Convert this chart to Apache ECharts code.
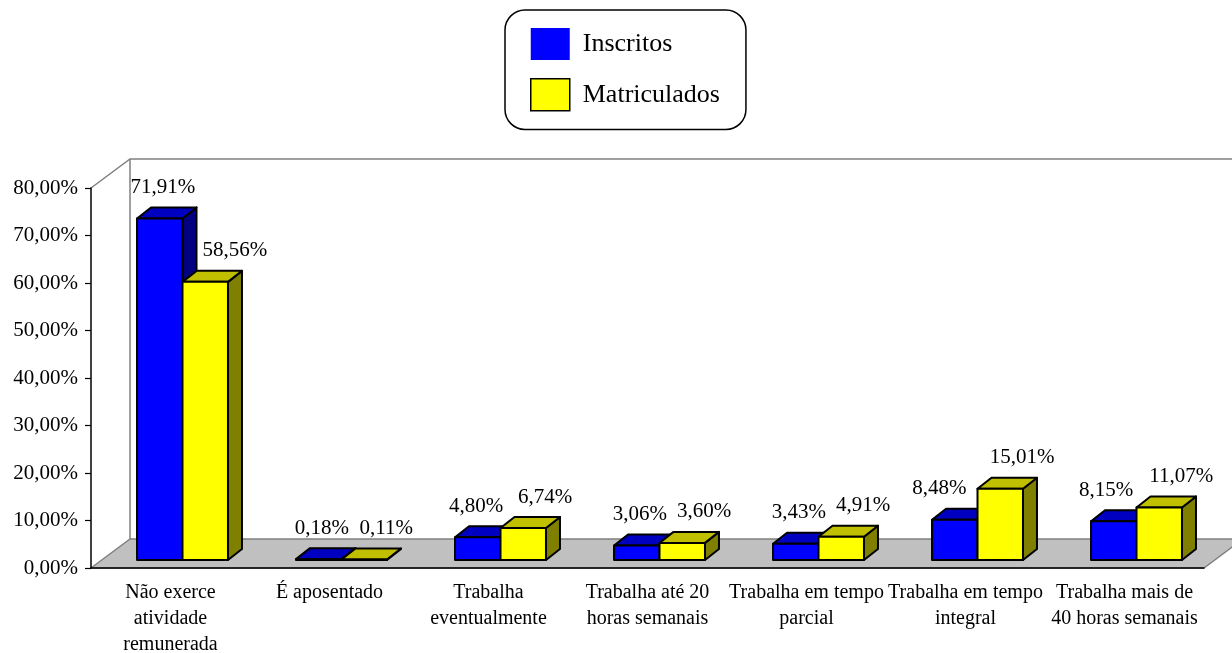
<!DOCTYPE html>
<html>
<head>
<meta charset="utf-8">
<script src="https://cdn.jsdelivr.net/npm/echarts@6/dist/echarts.min.js"></script>
<style>
  html, body { margin: 0; padding: 0; background: #fff; }
  #chart { width: 1232px; height: 653px; }
</style>
</head>
<body>
<div id="chart"></div>
<script>
const categories = [
  'Não exerce\natividade\nremunerada',
  'É aposentado',
  'Trabalha\neventualmente',
  'Trabalha até 20\nhoras semanais',
  'Trabalha em tempo\nparcial',
  'Trabalha em tempo\nintegral',
  'Trabalha mais de\n40 horas semanais'
]
const inscritos = [71.91, 0.18, 4.80, 3.06, 3.43, 8.48, 8.15]
const matriculados = [58.56, 0.11, 6.74, 3.60, 4.91, 15.01, 11.07]

const FONT = '"Liberation Serif", "Times New Roman", serif'
const LABEL_FONT = '21px ' + FONT
// 3d look: back wall depth, bar offset inside the floor, bar depth
const WALL = [39, -29]
const SHIFT = [12, -8]
const DEPTH = [14, -11]
const BAR_RATIO = 0.286

const measure = document.createElement('canvas').getContext('2d')
measure.font = LABEL_FONT

function fmt(v) {
  return v.toFixed(2).replace('.', ',') + '%'
}

function barGeom(api, ci, v, side) {
  const c0 = api.coord([ci, 0])
  const c1 = api.coord([ci, v])
  const bw = api.size([1, 0])[0] * BAR_RATIO
  const x0 = c0[0] + SHIFT[0] + (side === 0 ? -bw : 0)
  return { x0: x0, x1: x0 + bw, yt: c1[1] + SHIFT[1], yb: c0[1] + SHIFT[1] }
}

function frameRenderer(params, api) {
  const cs = params.coordSys
  const left = cs.x, right = cs.x + cs.width
  const top = cs.y, bottom = cs.y + cs.height
  const dx = WALL[0], dy = WALL[1]
  const line = { stroke: '#808080', lineWidth: 1.5, fill: null }
  return {
    type: 'group',
    children: [
      {
        type: 'polygon',
        shape: { points: [[left, bottom], [left + dx, bottom + dy], [right + dx, bottom + dy], [right, bottom]] },
        style: { fill: '#c0c0c0', stroke: '#808080', lineWidth: 1.5 }
      },
      {
        type: 'polyline',
        shape: { points: [[left, top], [left + dx, top + dy], [right + dx, top + dy]] },
        style: line
      },
      {
        type: 'line',
        shape: { x1: left + dx, y1: top + dy, x2: left + dx, y2: bottom + dy },
        style: line
      }
    ]
  }
}

// label x, pushed aside when it would run into the neighbouring bar
function labelX(api, ci, side, g, ly) {
  const dx = DEPTH[0], dy = DEPTH[1]
  const w = measure.measureText(fmt(api.value(1))).width
  const lb = ly + 11
  let cx = (g.x0 + g.x1) / 2 + (side === 0 ? 3 : 22)
  if (side === 1) {
    const o = barGeom(api, ci, inscritos[ci], 0)
    if (lb > o.yt + dy) {
      const minLeft = o.x1 + dx + 6
      if (cx - w / 2 < minLeft) cx = minLeft + w / 2
    }
  } else {
    const o = barGeom(api, ci, matriculados[ci], 1)
    if (lb > o.yt + dy) {
      const edge = lb >= o.yt ? o.x0 : o.x0 + dx * (o.yt - lb) / -dy
      const maxRight = edge - 11
      if (cx + w / 2 > maxRight) cx = maxRight - w / 2
    }
  }
  return cx
}

function boxRenderer(side, colors) {
  return function (params, api) {
    const ci = api.value(0), v = api.value(1)
    const g = barGeom(api, ci, v, side)
    const x0 = g.x0, x1 = g.x1, yt = g.yt, yb = g.yb
    const dx = DEPTH[0], dy = DEPTH[1]
    const ly = yt + dy - 20
    const edge = { stroke: '#000', lineWidth: 2, lineJoin: 'round' }
    return {
      type: 'group',
      children: [
        {
          type: 'polygon',
          shape: { points: [[x1, yt], [x1 + dx, yt + dy], [x1 + dx, yb + dy], [x1, yb]] },
          style: Object.assign({ fill: colors.side }, edge)
        },
        {
          type: 'polygon',
          shape: { points: [[x0, yt], [x0 + dx, yt + dy], [x1 + dx, yt + dy], [x1, yt]] },
          style: Object.assign({ fill: colors.top }, edge)
        },
        {
          type: 'rect',
          shape: { x: x0, y: yt, width: x1 - x0, height: yb - yt },
          style: Object.assign({ fill: colors.front }, edge)
        },
        {
          type: 'text',
          style: {
            text: fmt(v),
            x: labelX(api, ci, side, g, ly),
            y: ly,
            align: 'center',
            verticalAlign: 'middle',
            font: LABEL_FONT,
            fill: '#000'
          }
        }
      ]
    }
  }
}

const chart = echarts.init(document.getElementById('chart'))
chart.setOption({
  animation: false,
  backgroundColor: '#fff',
  legend: {
    orient: 'vertical',
    left: 505, top: 10,
    padding: [18, 26, 18, 25],
    itemGap: 18, itemWidth: 39, itemHeight: 32,
    borderColor: '#000', borderWidth: 1.5, borderRadius: 20,
    selectedMode: false,
    icon: 'rect',
    textStyle: { fontSize: 26, fontFamily: FONT, color: '#000', lineHeight: 32, padding: [0, 0, 0, 8] },
    data: [
      { name: 'Inscritos', itemStyle: { color: '#0000ff', borderWidth: 0 } },
      { name: 'Matriculados', itemStyle: { color: '#ffff00', borderColor: '#000', borderWidth: 1.5 } }
    ]
  },
  grid: { left: 91, right: 28, top: 188, bottom: 85, outerBoundsMode: 'none' },
  xAxis: {
    type: 'category',
    data: categories,
    z: 5,
    axisLine: { lineStyle: { color: '#000', width: 1.5 } },
    axisTick: { length: 7, lineStyle: { color: '#000', width: 1.2 } },
    axisLabel: {
      interval: 0, margin: 12,
      color: '#000', fontFamily: FONT, fontSize: 20, lineHeight: 26
    }
  },
  yAxis: {
    type: 'value',
    min: 0, max: 80, interval: 10,
    z: 5,
    axisLine: { show: true, lineStyle: { color: '#000', width: 1.5 } },
    axisTick: { show: true, length: 6, lineStyle: { color: '#000', width: 1.2 } },
    axisLabel: { margin: 13, color: '#000', fontFamily: FONT, fontSize: 21, formatter: fmt },
    splitLine: { show: false }
  },
  series: [
    {
      name: 'frame', type: 'custom', silent: true, z: 1,
      renderItem: frameRenderer,
      data: [[0, 0]]
    },
    {
      name: 'Inscritos', type: 'custom', z: 2,
      itemStyle: { color: '#0000ff' },
      renderItem: boxRenderer(0, { front: '#0000ff', top: '#0000c0', side: '#000080' }),
      data: inscritos.map(function (v, i) { return [i, v] })
    },
    {
      name: 'Matriculados', type: 'custom', z: 3,
      itemStyle: { color: '#ffff00' },
      renderItem: boxRenderer(1, { front: '#ffff00', top: '#c0c000', side: '#808000' }),
      data: matriculados.map(function (v, i) { return [i, v] })
    }
  ]
})
</script>
</body>
</html>
